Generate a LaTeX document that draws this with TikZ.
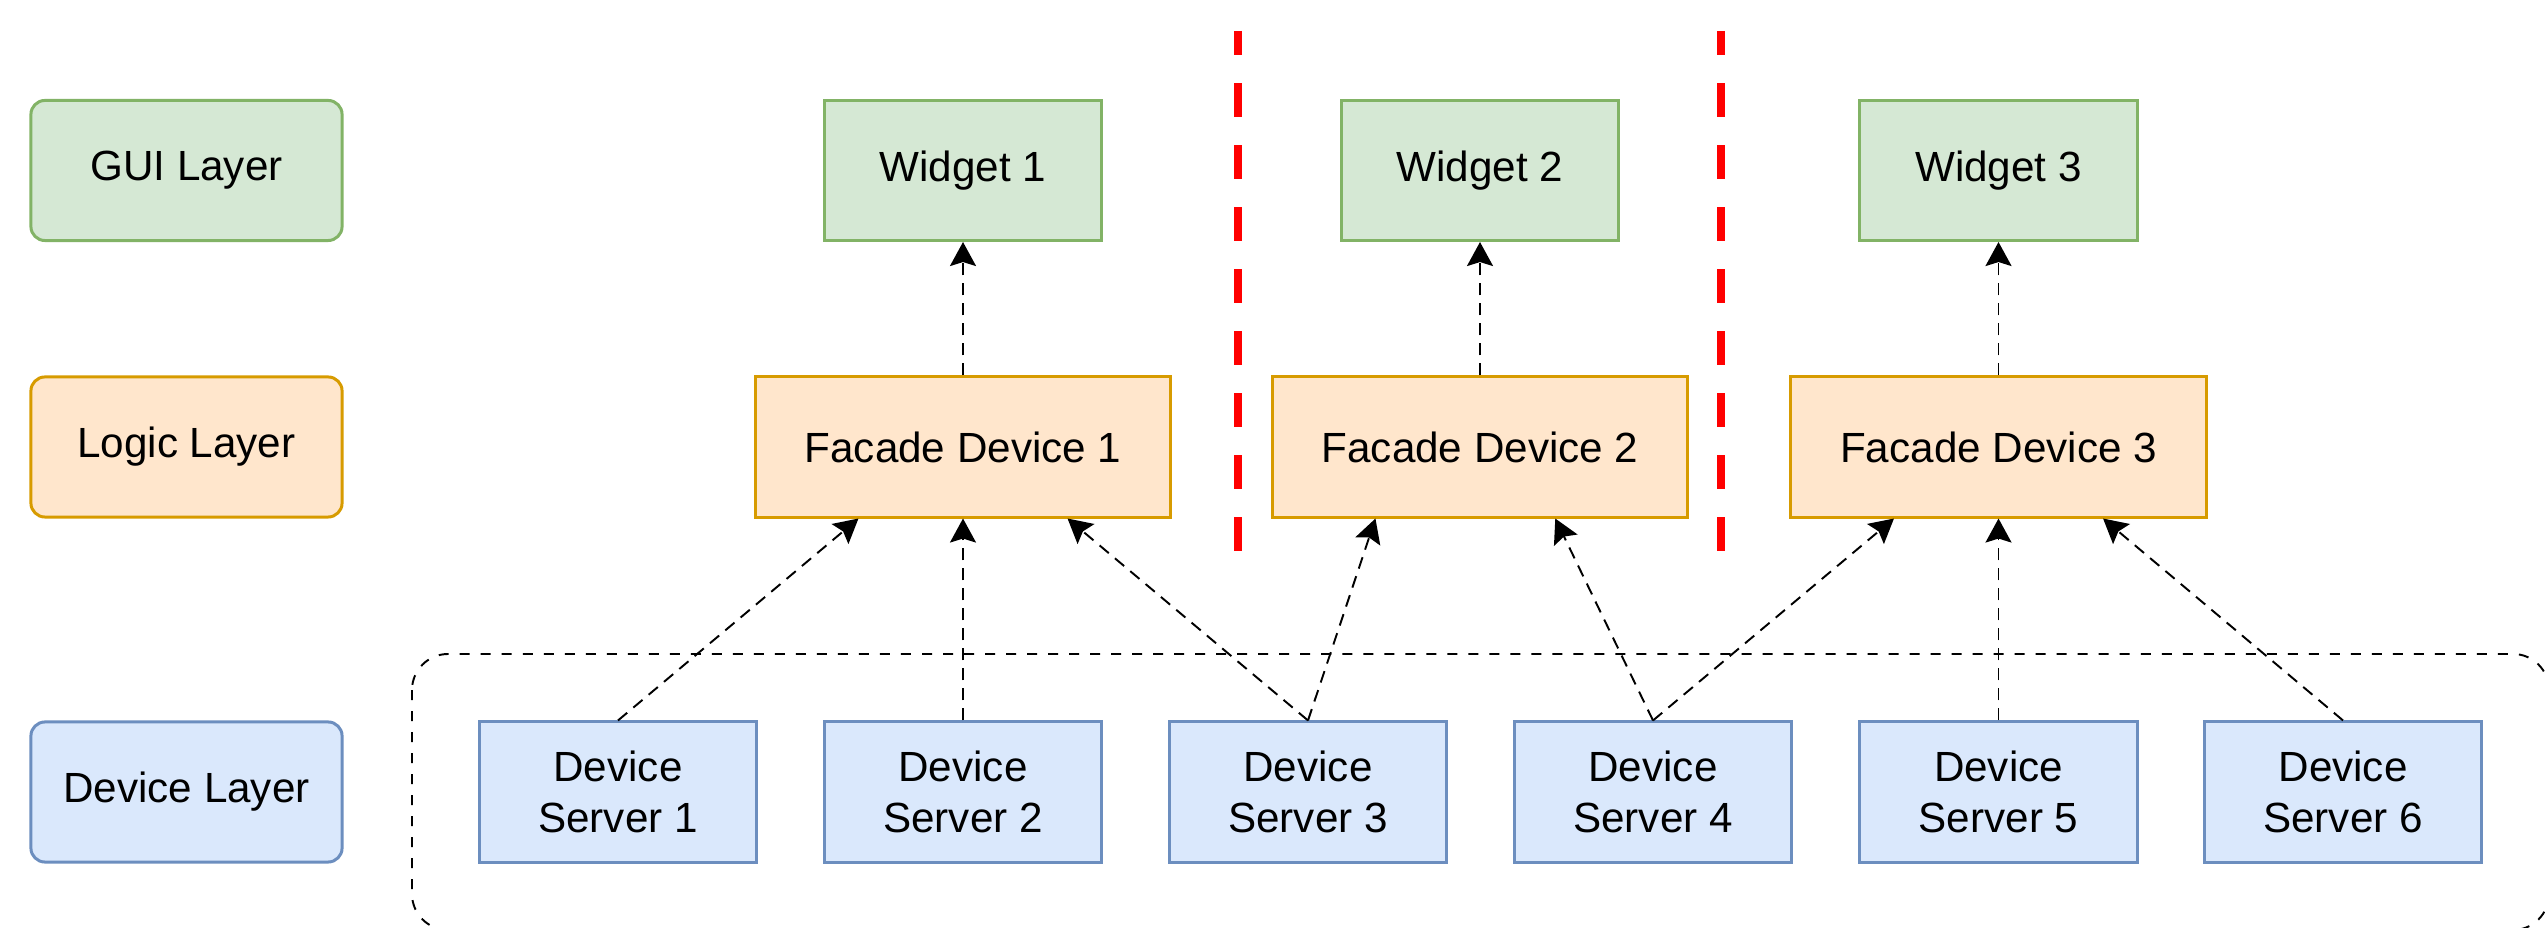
\documentclass[tikz,border=0pt]{standalone}
\usepackage{fontspec}
\setmainfont{Liberation Sans}
\usetikzlibrary{arrows.meta,calc}

\definecolor{guifill}{HTML}{D5E8D4}
\definecolor{guiline}{HTML}{82B366}
\definecolor{logicfill}{HTML}{FFE6CC}
\definecolor{logicline}{HTML}{D79B00}
\definecolor{devfill}{HTML}{DAE8FC}
\definecolor{devline}{HTML}{6C8EBF}

\begin{document}
\begin{tikzpicture}[x=0.01cm, y=-0.01cm,
    every node/.style={font=\fontsize{12}{14.5}\selectfont, align=center},
    box/.style={draw, line width=0.85pt, minimum height=1.4cm, inner sep=0pt},
    layer/.style={box, rounded corners=0.14cm, minimum width=3.11cm},
    widget/.style={box, fill=guifill, draw=guiline, minimum width=2.77cm},
    facade/.style={box, fill=logicfill, draw=logicline, minimum width=4.15cm},
    server/.style={box, fill=devfill, draw=devline, minimum width=2.77cm},
    link/.style={-{Stealth[length=0.24cm, width=0.26cm, inset=0.04cm]}, line width=0.55pt, dash pattern=on 0.12cm off 0.08cm},
    sepline/.style={red, line width=2.3pt, dash pattern=on 0.34cm off 0.28cm, dash phase=0.10cm},
    group/.style={line width=0.55pt, dash pattern=on 0.10cm off 0.11cm, rounded corners=0.36cm}]
    \useasboundingbox (0,0) rectangle (2545,928);

    % 设备分组框
    \draw[group] (412,654) rectangle (2549,930);

    % 层标签
    \node[layer, fill=guifill, draw=guiline] (gui) at (186.5,170.5) {GUI Layer};
    \node[layer, fill=logicfill, draw=logicline] (logic) at (186.5,447) {Logic Layer};
    \node[layer, fill=devfill, draw=devline] (devlayer) at (186.5,792) {Device Layer};

    % 界面组件
    \node[widget] (w1) at (963,170.5) {Widget 1};
    \node[widget] (w2) at (1480,170.5) {Widget 2};
    \node[widget] (w3) at (1998.5,170.5) {Widget 3};

    % 外观设备
    \node[facade] (f1) at (963,447) {Facade Device 1};
    \node[facade] (f2) at (1480,447) {Facade Device 2};
    \node[facade] (f3) at (1998.5,447) {Facade Device 3};

    % 设备服务器
    \node[server] (ds1) at (618,792) {Device\\Server 1};
    \node[server] (ds2) at (963,792) {Device\\Server 2};
    \node[server] (ds3) at (1308,792) {Device\\Server 3};
    \node[server] (ds4) at (1653,792) {Device\\Server 4};
    \node[server] (ds5) at (1998.5,792) {Device\\Server 5};
    \node[server] (ds6) at (2343,792) {Device\\Server 6};

    % 分隔线
    \draw[sepline] (1238,31) -- (1238,551);
    \draw[sepline] (1721,31) -- (1721,551);

    % 外观设备 -> 组件
    \draw[link] (f1.north) -- (w1.south);
    \draw[link] (f2.north) -- (w2.south);
    \draw[link] (f3.north) -- (w3.south);

    % 服务器 -> 外观设备
    \draw[link] (ds1.north) -- ($(f1.south west)!0.25!(f1.south east)$);
    \draw[link] (ds2.north) -- (f1.south);
    \draw[link] (ds3.north) -- ($(f1.south west)!0.75!(f1.south east)$);
    \draw[link] (ds3.north) -- ($(f2.south west)!0.25!(f2.south east)$);
    \draw[link] (ds4.north) -- ($(f2.south west)!0.68!(f2.south east)$);
    \draw[link] (ds4.north) -- ($(f3.south west)!0.25!(f3.south east)$);
    \draw[link] (ds5.north) -- (f3.south);
    \draw[link] (ds6.north) -- ($(f3.south west)!0.75!(f3.south east)$);
\end{tikzpicture}
\end{document}
